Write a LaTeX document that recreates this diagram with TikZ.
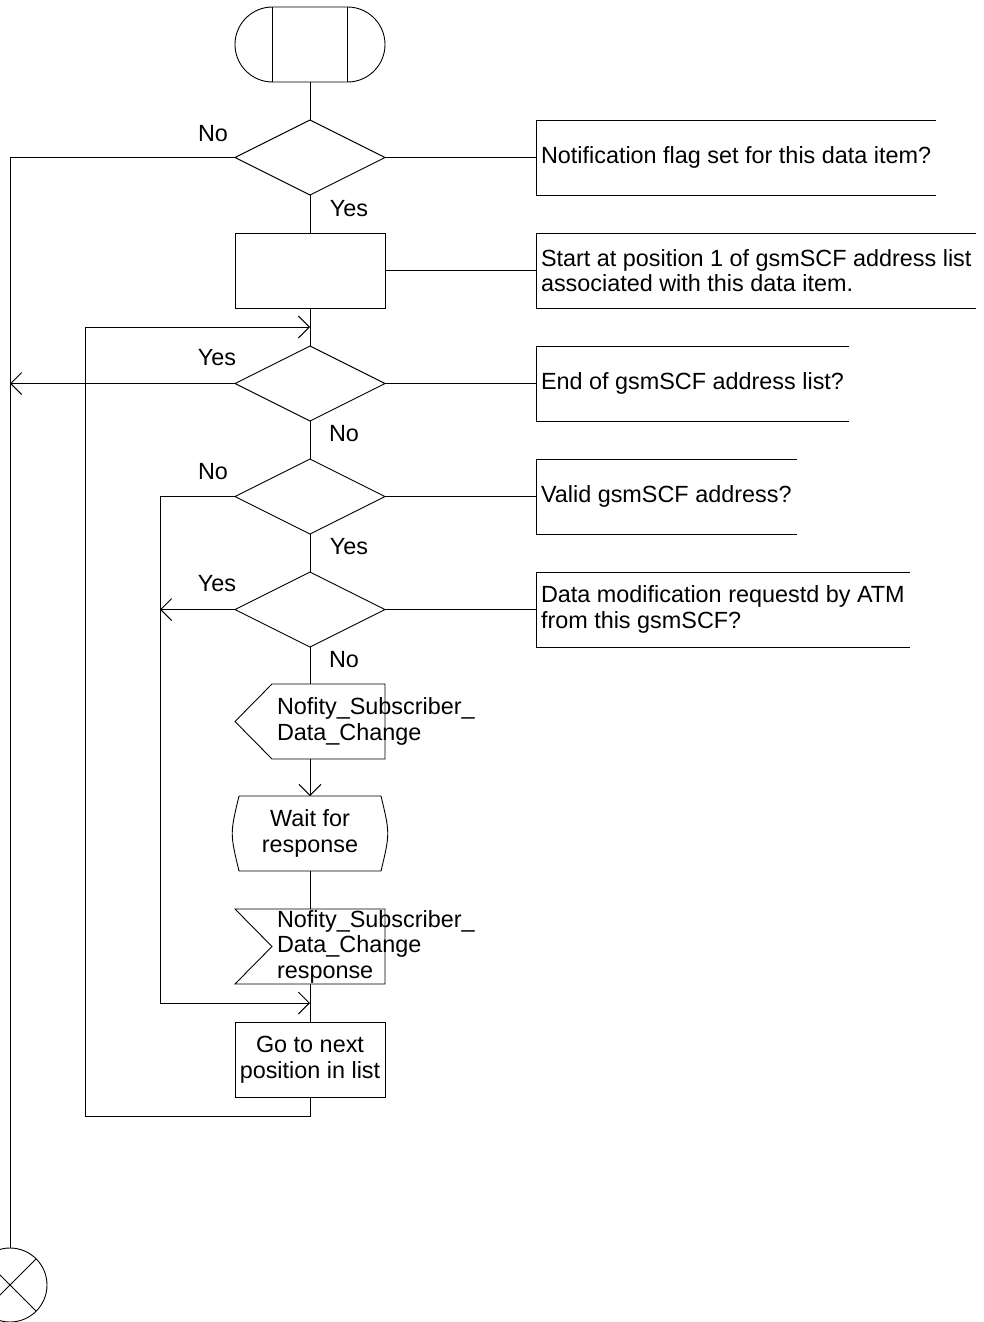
\documentclass[tikz,border=0pt]{standalone}
\usepackage{fontspec}
\setmainfont{Liberation Sans}
\usetikzlibrary{shapes, arrows.meta, positioning, calc}

\begin{document}
\begin{tikzpicture}[
    x=1pt, y=-1pt,
    font=\fontsize{23.4}{25.5}\selectfont,
    line width=0.9pt,
    node distance=38pt,
    every node/.style={inner sep=0pt, outer sep=0pt},
    term/.style={draw, rounded rectangle, minimum width=150pt, minimum height=75pt},
    decision/.style={draw, diamond, minimum width=150pt, minimum height=75pt},
    task/.style={draw, rectangle, minimum width=150pt, minimum height=75pt, align=center},
    sigbox/.style={rectangle, minimum width=150pt, minimum height=75pt, align=center},
    comment/.style={right=151pt of #1, align=left, minimum height=75pt, inner xsep=5pt},
    arrow/.style={-{Straight Barb[length=11pt, width=22pt]}}
  ]

  \useasboundingbox (0,0) rectangle (983,1322);

  % Nodes
  \node[term] (start) at (310,44.5) {};
  \node[decision, below=of start] (d1) {};
  \node[task, below=of d1] (init) {};
  \node[decision, below=of init] (d2) {};
  \node[decision, below=of d2] (d3) {};
  \node[decision, below=of d3] (d4) {};
  \node[sigbox, below=37pt of d4] (send) {};
  \node[sigbox, below=37pt of send] (wait) {Wait for\\response};
  \node[sigbox, below=of wait] (recv) {};
  \node[task, below=of recv] (next) {Go to next\\position in list};
  \node[draw, circle, minimum size=74pt] (stop) at (10,1285) {};

  \node[anchor=west, align=left] (sendtxt) at ([xshift=42pt]send.west) {Nofity\_Subscriber\_\\Data\_Change};
  \node[anchor=west, align=left] (recvtxt) at ([xshift=42pt]recv.west) {Nofity\_Subscriber\_\\Data\_Change\\response};

  % Shapes
  \draw ($(start.north)+(-37.5,0)$) -- ($(start.south)+(-37.5,0)$)
        ($(start.north)+(37.5,0)$) -- ($(start.south)+(37.5,0)$);
  \draw (send.west) -- ([xshift=37pt]send.north west) -- (send.north east)
        -- (send.south east) -- ([xshift=37pt]send.south west) -- cycle;
  \draw ([xshift=4pt]wait.north west) -- ([xshift=-4pt]wait.north east)
        .. controls ([xshift=5pt]wait.east) .. ([xshift=-4pt]wait.south east)
        -- ([xshift=4pt]wait.south west)
        .. controls ([xshift=-5pt]wait.west) .. ([xshift=4pt]wait.north west) -- cycle;
  \draw (recv.north west) -- (recv.north east) -- (recv.south east)
        -- (recv.south west) -- ([xshift=37pt]recv.west) -- cycle;
  \draw (stop.north west) -- (stop.south east) (stop.north east) -- (stop.south west);

  % Comments
  \node[comment=d1] (c1) {Notification flag set for this data item?};
  \node[comment=init] (c2) {Start at position 1 of gsmSCF address list\\associated with this data item.};
  \node[comment=d2] (c3) {End of gsmSCF address list?};
  \node[comment=d3] (c4) {Valid gsmSCF address?};
  \node[comment=d4] (c5) {Data modification requestd by ATM\\from this gsmSCF?};
  \foreach \c in {c1,c2,c3,c4,c5}
    \draw (\c.north east) -- (\c.north west) -- (\c.south west) -- (\c.south east);

  % Labels
  \node (no1) at (213,134) {No};
  \node (yes1) at (349,209) {Yes};
  \node (yes2) at (217,358) {Yes};
  \node (no2) at (344,434) {No};
  \node (no3) at (213,472) {No};
  \node (yes3) at (349,547) {Yes};
  \node (yes4) at (217,584) {Yes};
  \node (no4) at (344,660) {No};

  % Arrows
  \coordinate (j1) at ($(init.south)!0.5!(d2.north)$);
  \coordinate (j2) at ($(recv.south)!0.5!(next.north)$);
  \draw (start) -- (d1);
  \draw (d1) -- (init);
  \draw (init) -- (d2);
  \draw (d2) -- (d3);
  \draw (d3) -- (d4);
  \draw (d4) -- (send);
  \draw[arrow] (send) -- (wait);
  \draw (wait) -- (recv);
  \draw (recv) -- (next);
  \foreach \d/\c in {d1/c1,init/c2,d2/c3,d3/c4,d4/c5}
    \draw (\d) -- (\c);

  \draw (d1.west) -| (stop.north);
  \draw[arrow] (d2.west) -- (d2.west -| stop.north);
  \draw[arrow] (d3.west) -- ++(-75,0) |- (j2);
  \draw[arrow] (d4.west) -- ++(-75,0);
  \draw[arrow] (next.south) -- ++(0,19) -| ([xshift=-225pt]j1) -- (j1);

\end{tikzpicture}
\end{document}
